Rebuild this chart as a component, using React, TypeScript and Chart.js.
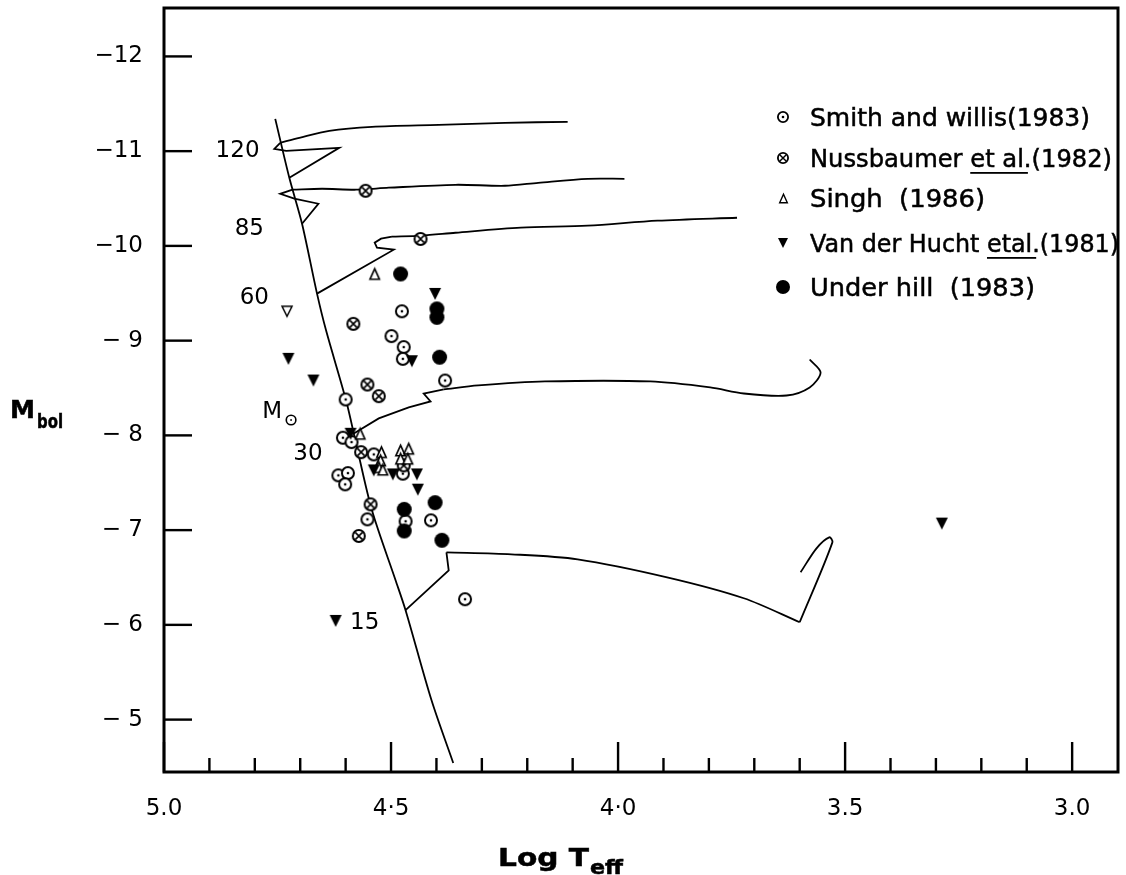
import React, { useEffect, useRef } from "react";
import { Chart, registerables } from "chart.js";

Chart.register(...registerables);

// ---------- axis ticks ----------
const xTickValues = [5.0, 4.9, 4.8, 4.7, 4.6, 4.5, 4.4, 4.3, 4.2, 4.1, 4.0, 3.9, 3.8, 3.7, 3.6, 3.5, 3.4, 3.3, 3.2, 3.1, 3.0];
const xMajorValues = [5.0, 4.5, 4.0, 3.5, 3.0];
const xMajorLabels = ["5.0", "4·5", "4·0", "3.5", "3.0"];
const yTickValues = [-12, -11, -10, -9, -8, -7, -6, -5];
const yTickLabels = ["−12", "−11", "−10", "− 9", "− 8", "− 7", "− 6", "− 5"];

// ---------- observed stars ----------
const smithLogT = [4.476, 4.499, 4.472, 4.474, 4.381, 4.600, 4.606, 4.587, 4.538, 4.474, 4.616, 4.595, 4.601, 4.552, 4.468, 4.412, 4.337];
const smithMbol = [-9.31, -9.048, -8.932, -8.808, -8.579, -8.379, -7.975, -7.929, -7.799, -7.596, -7.578, -7.602, -7.483, -7.114, -7.093, -7.103, -6.271];

const nussLogT = [4.556, 4.435, 4.583, 4.552, 4.527, 4.566, 4.472, 4.545, 4.571];
const nussMbol = [-10.582, -10.073, -9.177, -8.537, -8.414, -7.823, -7.683, -7.272, -6.938];

const singhLogT = [4.536, 4.568, 4.521, 4.523, 4.527, 4.518, 4.479, 4.461, 4.479, 4.463];
const singhMbol = [-9.704, -8.017, -7.823, -7.736, -7.665, -7.638, -7.841, -7.859, -7.754, -7.754];

const huchtLogT = [4.403, 4.454, 4.726, 4.671, 4.589, 4.538, 4.496, 4.443, 4.441, 3.287, 4.622];
const huchtMbol = [-9.493, -8.783, -8.808, -8.579, -8.017, -7.63, -7.588, -7.588, -7.427, -7.069, -6.042];

const huchtOpenLogT = [4.729];
const huchtOpenMbol = [-9.31];

const underhillLogT = [4.479, 4.399, 4.399, 4.393, 4.471, 4.471, 4.403, 4.388];
const underhillMbol = [-9.704, -9.335, -9.246, -8.825, -7.219, -6.991, -7.29, -6.893];

// ---------- evolutionary tracks ----------
const msLogT = [4.755, 4.724, 4.696, 4.663, 4.643, 4.599, 4.577, 4.542, 4.49, 4.468, 4.411, 4.363];
const msMbol = [-11.341, -10.719, -10.234, -9.496, -9.106, -8.368, -7.915, -7.209, -6.471, -6.155, -5.206, -4.542];

const track120LogT = [4.724, 4.614, 4.731, 4.757, 4.744, 4.702, 4.636, 4.542, 4.395, 4.249, 4.111];
const track120Mbol = [-10.719, -11.035, -11.004, -11.025, -11.088, -11.141, -11.215, -11.257, -11.278, -11.299, -11.31];

const track85LogT = [4.696, 4.66, 4.713, 4.744, 4.717, 4.652, 4.577, 4.505, 4.358, 4.249, 4.176, 4.067, 3.986];
const track85Mbol = [-10.234, -10.445, -10.498, -10.55, -10.593, -10.603, -10.593, -10.614, -10.645, -10.635, -10.666, -10.708, -10.708];

const track60LogT = [4.663, 4.494, 4.531, 4.536, 4.522, 4.498, 4.433, 4.358, 4.214, 4.067, 3.913, 3.738];
const track60Mbol = [-9.496, -9.96, -9.981, -10.034, -10.076, -10.097, -10.108, -10.139, -10.192, -10.213, -10.266, -10.297];

const track30LogT = [4.582, 4.527, 4.461, 4.413, 4.428, 4.384, 4.308, 4.161, 3.929, 3.797, 3.723, 3.629, 3.578, 3.554, 3.578];
const track30Mbol = [-8.02, -8.179, -8.295, -8.358, -8.442, -8.485, -8.527, -8.569, -8.569, -8.506, -8.442, -8.421, -8.506, -8.664, -8.801];

const track15LogT = [4.468, 4.373, 4.378, 4.235, 4.089, 3.892, 3.723, 3.6, 3.528, 3.535, 3.563, 3.598];
const track15Mbol = [-6.155, -6.576, -6.766, -6.745, -6.692, -6.502, -6.281, -6.028, -6.871, -6.924, -6.808, -6.555];

// ---------- mass labels ----------
const massLabels = ["120", "85", "60", "30", "15"];
const massLabelLogT = [4.838, 4.812, 4.801, 4.683, 4.558];
const massLabelMbol = [-11.004, -10.182, -9.454, -7.804, -6.017];
const msunLabelLogT = 4.762;
const msunLabelMbol = -8.247;

// ---------- legend ----------
type Seg = { t: string; u?: boolean };
const legendTexts: Seg[][] = [
  [{ t: "Smith and willis(1983)" }],
  [{ t: "Nussbaumer " }, { t: "et al", u: true }, { t: ".(1982)" }],
  [{ t: "Singh  (1986)" }],
  [{ t: "Van der Hucht " }, { t: "etal", u: true }, { t: ".(1981)" }],
  [{ t: "Under hill  (1983)" }],
];
const legendKinds = ["dotCircle", "crossCircle", "triUp", "triDown", "disc"];

const FONT = "'DejaVu Sans', 'Noto Sans', sans-serif";

function zip(xs: number[], ys: number[], from = 0, to = xs.length) {
  return xs.slice(from, to).map((x, i) => ({ x, y: ys[from + i] }));
}

function makeMarker(kind: string, size: number, lw = 2): HTMLCanvasElement {
  const s = Math.ceil(size + 6);
  const c = document.createElement("canvas");
  c.width = s;
  c.height = s;
  const ctx = c.getContext("2d")!;
  const cx = s / 2;
  const cy = s / 2;
  const r = size / 2;
  ctx.strokeStyle = "#000";
  ctx.fillStyle = "#000";
  ctx.lineWidth = lw;
  if (kind === "dotCircle" || kind === "crossCircle") {
    ctx.beginPath();
    ctx.arc(cx, cy, r - lw / 2, 0, Math.PI * 2);
    ctx.fillStyle = "#fff";
    ctx.fill();
    ctx.stroke();
    ctx.fillStyle = "#000";
    if (kind === "dotCircle") {
      ctx.beginPath();
      ctx.arc(cx, cy, 1.3, 0, Math.PI * 2);
      ctx.fill();
    } else {
      const d = (r - lw) * 0.72;
      ctx.lineWidth = lw * 0.8;
      ctx.beginPath();
      ctx.moveTo(cx - d, cy - d);
      ctx.lineTo(cx + d, cy + d);
      ctx.moveTo(cx + d, cy - d);
      ctx.lineTo(cx - d, cy + d);
      ctx.stroke();
    }
  } else if (kind === "disc") {
    ctx.beginPath();
    ctx.arc(cx, cy, r, 0, Math.PI * 2);
    ctx.fill();
  } else if (kind === "triUp") {
    const h = size * 0.95;
    ctx.beginPath();
    ctx.moveTo(cx, cy - h / 2);
    ctx.lineTo(cx + r * 0.85, cy + h / 2);
    ctx.lineTo(cx - r * 0.85, cy + h / 2);
    ctx.closePath();
    ctx.fillStyle = "#fff";
    ctx.fill();
    ctx.stroke();
  } else if (kind === "triDown" || kind === "triDownOpen") {
    const h = size;
    ctx.beginPath();
    ctx.moveTo(cx, cy + h / 2);
    ctx.lineTo(cx + r, cy - h / 2);
    ctx.lineTo(cx - r, cy - h / 2);
    ctx.closePath();
    if (kind === "triDown") {
      ctx.fill();
    } else {
      ctx.lineWidth = 1.5;
      ctx.fillStyle = "#fff";
      ctx.fill();
      ctx.stroke();
    }
  }
  return c;
}

function drawFitted(ctx: CanvasRenderingContext2D, segs: Seg[], x: number, baseline: number, endX: number) {
  const full = segs.map((s) => s.t).join("");
  const w = ctx.measureText(full).width;
  const sx = (endX - x) / w;
  ctx.save();
  ctx.translate(x, baseline);
  ctx.scale(sx, 1);
  let cx = 0;
  for (const s of segs) {
    ctx.fillText(s.t, cx, 0);
    ctx.lineWidth = 0.5;
    ctx.strokeText(s.t, cx, 0);
    const sw = ctx.measureText(s.t).width;
    if (s.u) ctx.fillRect(cx, 5, sw + 4, 1.8);
    cx += sw;
  }
  ctx.restore();
}

export default function App() {
  const ref = useRef<HTMLCanvasElement | null>(null);

  useEffect(() => {
    const canvas = ref.current;
    if (!canvas) return;

    const mk = {
      dotCircle: makeMarker("dotCircle", 14),
      crossCircle: makeMarker("crossCircle", 14),
      triUp: makeMarker("triUp", 11, 1.7),
      triDown: makeMarker("triDown", 12),
      triDownOpen: makeMarker("triDownOpen", 10),
      disc: makeMarker("disc", 15),
    } as Record<string, HTMLCanvasElement>;
    const legendMk = {
      dotCircle: makeMarker("dotCircle", 12, 1.8),
      crossCircle: makeMarker("crossCircle", 12, 1.8),
      triUp: makeMarker("triUp", 9, 1.4),
      triDown: makeMarker("triDown", 10),
      disc: makeMarker("disc", 14),
    } as Record<string, HTMLCanvasElement>;

    const pts = (data: { x: number; y: number }[], style: HTMLCanvasElement) => ({
      type: "scatter" as const,
      data,
      pointStyle: style,
      pointRadius: 7,
      showLine: false,
    });
    const line = (data: { x: number; y: number }[], tension = 0) => ({
      type: "scatter" as const,
      data,
      showLine: true,
      borderColor: "#000",
      borderWidth: 1.8,
      pointRadius: 0,
      tension,
      fill: false,
    });

    const datasets: any[] = [
      pts(zip(underhillLogT, underhillMbol), mk.disc),
      pts(zip(huchtLogT, huchtMbol), mk.triDown),
      pts(zip(huchtOpenLogT, huchtOpenMbol), mk.triDownOpen),
      pts(zip(singhLogT, singhMbol), mk.triUp),
      pts(zip(nussLogT, nussMbol), mk.crossCircle),
      pts(zip(smithLogT, smithMbol), mk.dotCircle),
      line(zip(msLogT, msMbol), 0.3),
      // 120 Msun: hook then smooth tail
      line(zip(track120LogT, track120Mbol, 0, 5)),
      line(zip(track120LogT, track120Mbol, 4), 0.3),
      // 85 Msun
      line(zip(track85LogT, track85Mbol, 0, 5)),
      line(zip(track85LogT, track85Mbol, 4), 0.3),
      // 60 Msun
      line(zip(track60LogT, track60Mbol, 0, 6)),
      line(zip(track60LogT, track60Mbol, 5), 0.3),
      // 30 Msun
      line(zip(track30LogT, track30Mbol, 0, 6)),
      line(zip(track30LogT, track30Mbol, 5), 0.3),
      // 15 Msun
      line(zip(track15LogT, track15Mbol, 0, 3)),
      line(zip(track15LogT, track15Mbol, 2, 8), 0.3),
      line(zip(track15LogT, track15Mbol, 7), 0.3),
    ];

    const overlay = {
      id: "overlay",
      afterDraw(chart: any) {
        const ctx: CanvasRenderingContext2D = chart.ctx;
        const { left, right, top, bottom } = chart.chartArea;
        const xs = chart.scales.x;
        const ys = chart.scales.y;
        ctx.save();
        ctx.strokeStyle = "#000";
        ctx.fillStyle = "#000";
        // frame
        ctx.lineWidth = 3;
        ctx.strokeRect(left, top, right - left, bottom - top);
        // inward ticks
        ctx.lineWidth = 2.4;
        xTickValues.forEach((v) => {
          const px = xs.getPixelForValue(v);
          const major = xMajorValues.some((m) => Math.abs(m - v) < 1e-6);
          ctx.beginPath();
          ctx.moveTo(px, bottom);
          ctx.lineTo(px, bottom - (major ? 30 : 14));
          ctx.stroke();
        });
        yTickValues.forEach((v) => {
          const py = ys.getPixelForValue(v);
          ctx.beginPath();
          ctx.moveTo(left, py);
          ctx.lineTo(left + 28, py);
          ctx.stroke();
        });
        // mass labels
        ctx.font = `23px ${FONT}`;
        ctx.textAlign = "center";
        ctx.textBaseline = "middle";
        massLabels.forEach((t, i) => {
          ctx.fillText(t, xs.getPixelForValue(massLabelLogT[i]), ys.getPixelForValue(massLabelMbol[i]));
        });
        // M_sun label
        const mx = xs.getPixelForValue(msunLabelLogT);
        const my = ys.getPixelForValue(msunLabelMbol);
        ctx.fillText("M", mx, my);
        ctx.lineWidth = 1.6;
        ctx.beginPath();
        ctx.arc(mx + 19, my + 8, 4.8, 0, Math.PI * 2);
        ctx.stroke();
        ctx.beginPath();
        ctx.arc(mx + 19, my + 8, 0.9, 0, Math.PI * 2);
        ctx.fill();

        // legend
        const rowY = [117, 158, 198, 243, 287];
        const rowEnd = [1090, 1112, 985, 1119, 1035];
        ctx.font = `24px ${FONT}`;
        ctx.textAlign = "left";
        ctx.textBaseline = "alphabetic";
        legendTexts.forEach((segs, i) => {
          const img = legendMk[legendKinds[i]];
          ctx.drawImage(img, Math.round(783 - img.width / 2), Math.round(rowY[i] - img.height / 2));
          drawFitted(ctx, segs, 810, rowY[i] + 9, rowEnd[i]);
        });

        // axis titles
        ctx.font = `bold 25px ${FONT}`;
        drawFitted(ctx, [{ t: "Log T" }], 498, 866, 589);
        ctx.font = `bold 19px ${FONT}`;
        drawFitted(ctx, [{ t: "eff" }], 590, 874, 623);
        ctx.font = `bold 24px ${FONT}`;
        drawFitted(ctx, [{ t: "M" }], 10, 418, 35);
        ctx.font = `bold 19px ${FONT}`;
        drawFitted(ctx, [{ t: "bol" }], 37, 428, 63);
        ctx.restore();
      },
    };

    const chart = new Chart(canvas, {
      type: "scatter",
      data: { datasets },
      options: {
        responsive: false,
        animation: false,
        events: [],
        layout: { padding: { top: 7, right: 3, left: 0, bottom: 0 } },
        plugins: { legend: { display: false }, tooltip: { enabled: false } },
        scales: {
          x: {
            type: "linear",
            min: 2.899,
            max: 5.0,
            reverse: true,
            afterFit: (s: any) => {
              s.height = 103;
              s.paddingLeft = 0;
              s.paddingRight = 0;
            },
            afterBuildTicks: (s: any) => {
              s.ticks = xTickValues.map((v) => ({ value: v }));
            },
            grid: { display: false, drawTicks: false },
            border: { display: false },
            ticks: {
              autoSkip: false,
              maxRotation: 0,
              padding: 23,
              color: "#000",
              font: { family: FONT, size: 23 },
              callback: (v: any) => {
                const i = xMajorValues.findIndex((m) => Math.abs(m - Number(v)) < 1e-6);
                return i >= 0 ? xMajorLabels[i] : "";
              },
            },
          },
          y: {
            type: "linear",
            min: -12.511,
            max: -4.447,
            reverse: true,
            afterFit: (s: any) => {
              s.width = 164;
              s.paddingTop = 0;
              s.paddingBottom = 0;
            },
            afterBuildTicks: (s: any) => {
              s.ticks = yTickValues.map((v) => ({ value: v }));
            },
            grid: { display: false, drawTicks: false },
            border: { display: false },
            ticks: {
              autoSkip: false,
              padding: 21,
              color: "#000",
              font: { family: FONT, size: 23 },
              callback: (v: any) => {
                const i = yTickValues.findIndex((m) => Math.abs(m - Number(v)) < 1e-6);
                return i >= 0 ? yTickLabels[i] : "";
              },
            },
          },
        },
      },
      plugins: [overlay],
    } as any);

    return () => chart.destroy();
  }, []);

  return (
    <div style={{ position: "fixed", left: 0, top: 0, width: 1126, height: 875, background: "#fff" }}>
      <canvas ref={ref} width={1126} height={875} style={{ width: 1126, height: 875, display: "block" }} />
    </div>
  );
}
